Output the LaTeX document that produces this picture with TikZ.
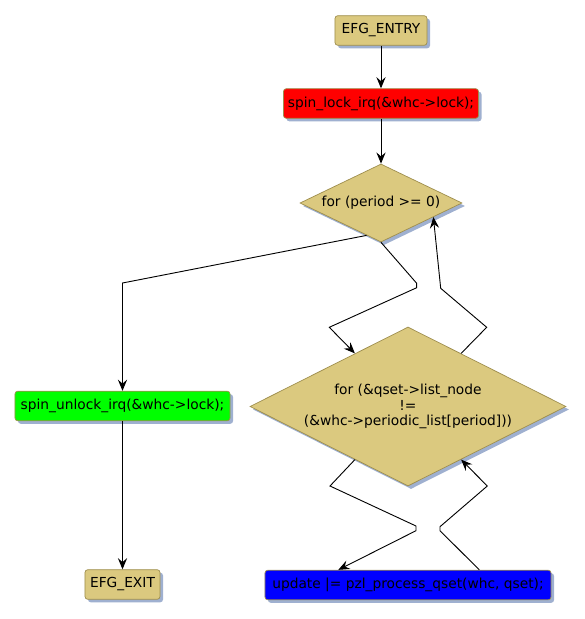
\documentclass[tikz,border=0pt]{standalone}
\usepackage{fontspec}
\setmainfont{DejaVu Sans}
\usetikzlibrary{arrows.meta,shapes.geometric,shadows}
\definecolor{efgtan}{HTML}{DBC97F}
\definecolor{efgrim}{HTML}{9E8E4E}
\definecolor{efgshade}{HTML}{9FB0D0}
\tikzset{
  pa/.style={-{Stealth[length=2.8mm,width=2.3mm,inset=1mm]}, line width=0.65pt},
  blk/.style={rectangle, rounded corners=2pt, draw=efgrim, fill=efgtan, line width=0.5pt,
              minimum height=0.74cm, inner xsep=0.1cm, font=\fontsize{9.8}{11}\selectfont,
              drop shadow={shadow xshift=0.075cm, shadow yshift=-0.075cm, fill=efgshade, opacity=1}},
  dec/.style={diamond, aspect=2, inner sep=0pt, draw=efgrim, fill=efgtan, line width=0.5pt,
              align=center, font=\fontsize{9.8}{11}\selectfont,
              drop shadow={shadow xshift=0.075cm, shadow yshift=-0.075cm, fill=efgshade, opacity=1}},
}

\begin{document}
\begin{tikzpicture}[x=0.025cm,y=-0.025cm,>=Stealth]
  \useasboundingbox (0,0) rectangle (585,619);
  % nodes
  \node[blk,minimum width=2.3cm] (entry) at (381,30.5) {EFG\_ENTRY};
  \node[blk,minimum width=4.875cm,fill=red] (lock) at (381,103.5) {spin\_lock\_irq(\&whc->lock);};
  \node[dec,minimum width=4.05cm,minimum height=1.95cm] (per) at (381,203) {for (period >= 0)};
  \node[dec,minimum width=7.9cm,minimum height=3.975cm] (qs) at (408,406.5)
    {for (\&qset->list\_node\\!=\\(\&whc->periodic\_list[period]))};
  \node[blk,minimum width=5.375cm,fill=green] (unlock) at (122.5,406) {spin\_unlock\_irq(\&whc->lock);};
  \node[blk,minimum width=1.875cm] (exit) at (122.5,584.5) {EFG\_EXIT};
  \node[blk,minimum width=7.15cm,fill=blue] (upd) at (408,585) {update |= pzl\_process\_qset(whc, qset);};
  % connectors
  \draw[pa] (entry) -- (lock);
  \draw[pa] (lock) -- (per);
  \draw[pa] (per.-114) -- (unlock.north |- 0,283) -- (unlock.north);
  \draw[pa] (per.south) -- (416.7,283.3) -- (416.7,287.7) -- (329.3,327.3) -- (qs.135);
  \draw[pa] (qs.45) -- (486.7,327.3) -- (440.7,288.3) -- (per.-15);
  \draw[pa] (qs.-135) -- (330,486) -- (416,526) -- (416,530.7) -- (upd.north -| 338.3,0);
  \draw[pa] (upd.north -| 479.3,0) -- (440,530.7) -- (440,526.7) -- (487.3,486) -- (qs.-45);
  \draw[pa] (unlock) -- (exit);
\end{tikzpicture}
\end{document}
